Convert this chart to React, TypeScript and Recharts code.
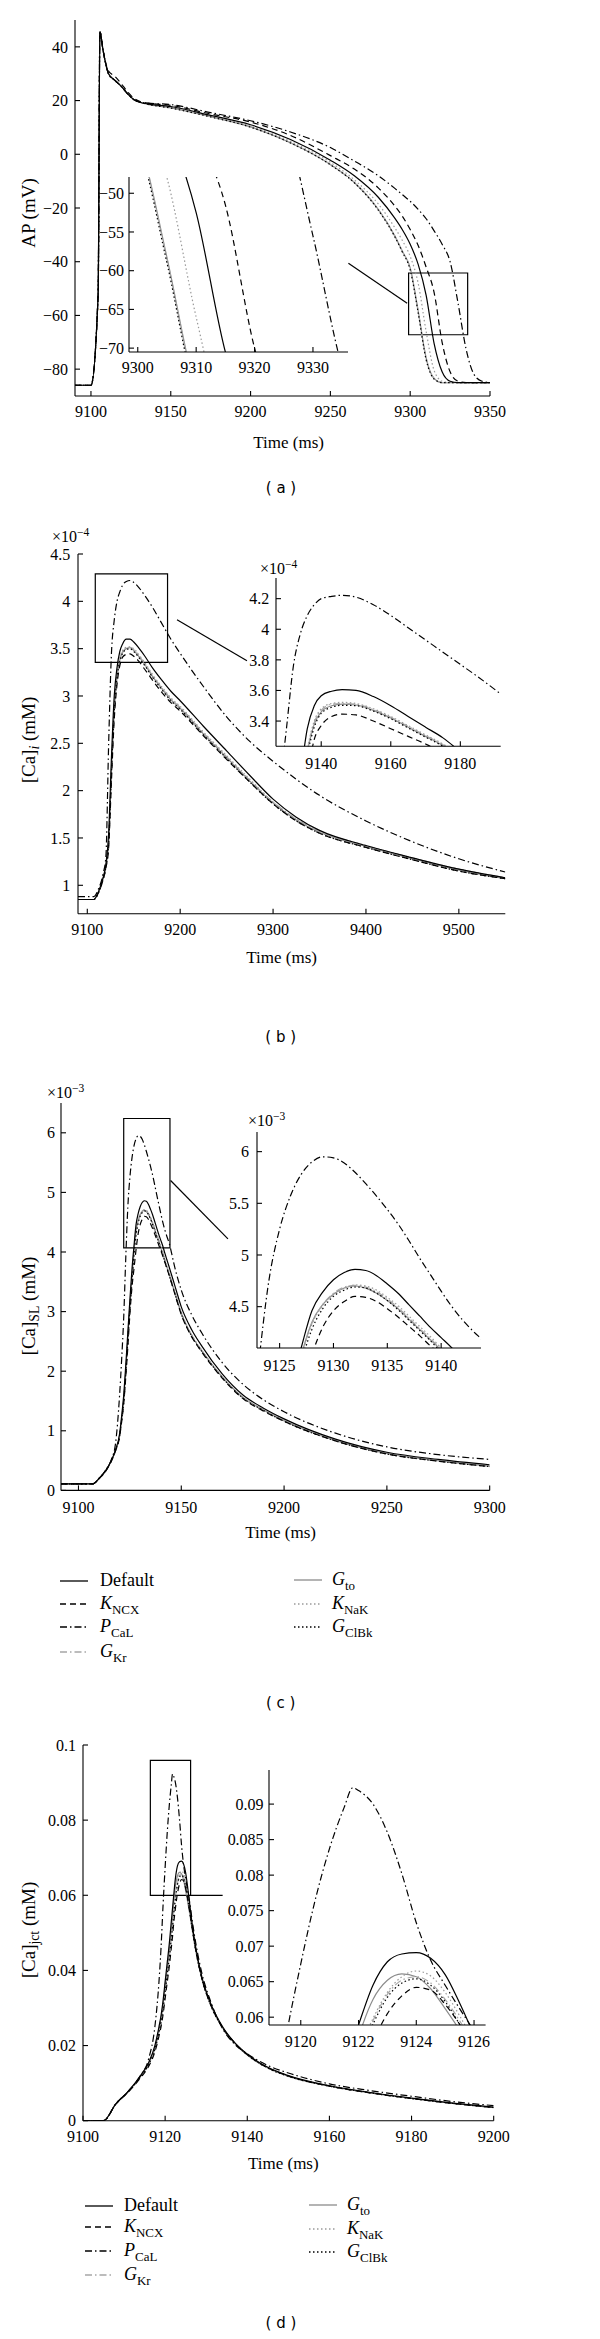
import React from "react";
import { LineChart, Line, XAxis, YAxis, ReferenceArea, ReferenceLine } from "recharts";

// ---- (a) action potential, mV ----
const aTime = [9090, 9100, 9104.5, 9105.6, 9107.5, 9109.5, 9111, 9115, 9119, 9123, 9127, 9133, 9150, 9175, 9200, 9225, 9250, 9265, 9280, 9290, 9295, 9300, 9305, 9310, 9315, 9320, 9325, 9330, 9335, 9340, 9345, 9350];
const aDef = [-86, -86, -52, 45.7, 39, 33, 30, 27.5, 25.3, 22.5, 20.3, 19, 17.8, 14.5, 11, 5.5, -2.2, -8, -16, -23.5, -28, -33.5, -41, -52.5, -70.5, -81, -84.5, -85, -85, -85, -85, -85];
const aNcx = [-86, -86, -52, 45.7, 39, 33.5, 31, 29, 26.3, 23.2, 20.8, 19.3, 18.2, 15, 12, 7, -0.5, -5.5, -12.5, -19, -23, -28, -34, -42, -51.5, -70, -81, -84.5, -85, -85, -85, -85];
const aCal = [-86, -86, -52, 45.7, 39, 33, 30, 27.5, 25.3, 22.5, 20.3, 19.2, 18.5, 15.5, 12.5, 8.3, 2.5, -2.5, -8, -12.5, -15, -17.5, -20.5, -24, -28.5, -33.5, -40, -55.5, -72.5, -82, -84.5, -85];
const aKr = [-86, -86, -52, 45.7, 39, 33, 30, 27.5, 25.3, 22.5, 20.3, 19, 17.3, 14, 10.2, 4.3, -3.8, -10.5, -20.5, -30, -36, -42.5, -58.5, -76, -83.5, -85, -85, -85, -85, -85, -85, -85];
const aTo = [-86, -86, -52, 45.7, 39, 33, 30, 27.5, 25.3, 22.5, 20.3, 19, 17.3, 14, 10.2, 4.3, -3.8, -10.5, -20.5, -30, -36, -42.3, -58.3, -75.8, -83.5, -85, -85, -85, -85, -85, -85, -85];
const aNak = [-86, -86, -52, 45.7, 39, 33, 30, 27.5, 25.3, 22.5, 20.3, 19, 17.5, 14.2, 10.5, 4.8, -3, -9.5, -18.5, -27, -32, -38, -48, -66, -80.5, -84.5, -85, -85, -85, -85, -85, -85];
const aClbk = [-86, -86, -52, 45.7, 39, 33, 30, 27.5, 25.3, 22.5, 20.3, 19, 17.2, 13.9, 10.1, 4.2, -3.9, -10.6, -20.8, -30.3, -36.3, -43, -59, -76.5, -83.7, -85, -85, -85, -85, -85, -85, -85];

// ---- (b) [Ca]i, x1e-4 mM ----
const bTime = [9090, 9107, 9112, 9117, 9120, 9123, 9126, 9129, 9132, 9135, 9138, 9142, 9146, 9150, 9156, 9162, 9170, 9180, 9190, 9200, 9225, 9250, 9275, 9300, 9325, 9350, 9400, 9450, 9500, 9550];
const bDef = [0.85, 0.85, 0.93, 1.08, 1.22, 1.55, 2.35, 3.0, 3.3, 3.47, 3.55, 3.6, 3.6, 3.57, 3.5, 3.42, 3.3, 3.17, 3.05, 2.95, 2.68, 2.42, 2.16, 1.91, 1.72, 1.58, 1.42, 1.29, 1.17, 1.08];
const bNcx = [0.85, 0.85, 0.92, 1.06, 1.18, 1.4, 2.1, 2.75, 3.12, 3.32, 3.41, 3.44, 3.445, 3.42, 3.36, 3.28, 3.17, 3.04, 2.93, 2.84, 2.58, 2.33, 2.09, 1.86, 1.68, 1.55, 1.4, 1.27, 1.15, 1.07];
const bCal = [0.88, 0.88, 0.96, 1.12, 1.3, 2.5, 3.45, 3.8, 4.0, 4.1, 4.17, 4.21, 4.22, 4.2, 4.14, 4.06, 3.94, 3.77, 3.6, 3.45, 3.1, 2.78, 2.52, 2.31, 2.12, 1.95, 1.68, 1.46, 1.28, 1.14];
const bKr = [0.85, 0.85, 0.93, 1.07, 1.2, 1.46, 2.22, 2.86, 3.21, 3.39, 3.47, 3.51, 3.515, 3.49, 3.42, 3.34, 3.22, 3.09, 2.97, 2.88, 2.61, 2.36, 2.11, 1.88, 1.7, 1.57, 1.42, 1.29, 1.17, 1.08];
const bTo = [0.85, 0.85, 0.93, 1.07, 1.2, 1.45, 2.2, 2.85, 3.2, 3.38, 3.46, 3.5, 3.51, 3.48, 3.41, 3.33, 3.21, 3.08, 2.96, 2.87, 2.6, 2.35, 2.1, 1.87, 1.69, 1.56, 1.41, 1.28, 1.16, 1.07];
const bNak = [0.85, 0.85, 0.93, 1.07, 1.2, 1.46, 2.22, 2.87, 3.22, 3.4, 3.48, 3.515, 3.52, 3.5, 3.43, 3.35, 3.23, 3.1, 2.98, 2.89, 2.62, 2.37, 2.12, 1.88, 1.7, 1.57, 1.42, 1.29, 1.17, 1.08];
const bClbk = [0.85, 0.85, 0.92, 1.06, 1.19, 1.44, 2.18, 2.83, 3.19, 3.37, 3.45, 3.49, 3.5, 3.47, 3.4, 3.32, 3.2, 3.07, 2.95, 2.86, 2.59, 2.34, 2.09, 1.86, 1.68, 1.55, 1.4, 1.27, 1.15, 1.07];

// (b) inset
const biTime = [9126, 9128, 9130, 9132, 9134, 9136, 9138, 9140, 9143, 9146, 9150, 9155, 9160, 9165, 9170, 9175, 9180, 9185, 9192];
const biDef = [1.9, 2.3, 2.6, 2.85, 3.05, 3.35, 3.5, 3.565, 3.595, 3.605, 3.6, 3.56, 3.5, 3.43, 3.36, 3.29, 3.2, 3.11, 2.98];
const biNcx = [1.6, 2.0, 2.35, 2.6, 2.85, 3.05, 3.28, 3.37, 3.43, 3.445, 3.44, 3.4, 3.35, 3.3, 3.25, 3.19, 3.1, 3.02, 2.9];
const biCal = [2.6, 2.95, 3.35, 3.76, 3.97, 4.09, 4.16, 4.2, 4.215, 4.222, 4.21, 4.16, 4.09, 4.01, 3.93, 3.85, 3.77, 3.69, 3.57];
const biKr = [1.7, 2.1, 2.45, 2.7, 2.96, 3.21, 3.39, 3.47, 3.51, 3.515, 3.51, 3.475, 3.425, 3.365, 3.305, 3.245, 3.165, 3.085, 2.965];
const biTo = [1.7, 2.1, 2.45, 2.7, 2.95, 3.2, 3.38, 3.46, 3.5, 3.51, 3.505, 3.47, 3.42, 3.36, 3.3, 3.24, 3.16, 3.08, 2.96];
const biNak = [1.7, 2.1, 2.45, 2.72, 2.97, 3.22, 3.4, 3.48, 3.515, 3.522, 3.515, 3.48, 3.43, 3.37, 3.31, 3.25, 3.17, 3.09, 2.97];
const biClbk = [1.7, 2.1, 2.45, 2.68, 2.93, 3.18, 3.36, 3.45, 3.49, 3.503, 3.5, 3.465, 3.415, 3.355, 3.295, 3.235, 3.155, 3.075, 2.955];

// ---- (c) [Ca]SL, x1e-3 mM ----
const cTime = [9091.5, 9107, 9110, 9113, 9116, 9118, 9120, 9121, 9122, 9123, 9124, 9125, 9126, 9127, 9128, 9129, 9130, 9131, 9132, 9133, 9134, 9135, 9136, 9137, 9138, 9139, 9140, 9141, 9142, 9143, 9144, 9147, 9150, 9155, 9160, 9170, 9180, 9190, 9200, 9225, 9250, 9275, 9300];
const cDef = [0.11, 0.11, 0.2, 0.32, 0.5, 0.68, 0.95, 1.25, 1.6, 2.1, 2.65, 3.2, 3.7, 4.1, 4.46, 4.64, 4.76, 4.83, 4.86, 4.85, 4.8, 4.72, 4.63, 4.52, 4.41, 4.3, 4.2, 4.1, 3.98, 3.87, 3.76, 3.42, 3.08, 2.7, 2.42, 1.95, 1.6, 1.38, 1.2, 0.86, 0.64, 0.52, 0.43];
const cNcx = [0.11, 0.11, 0.2, 0.31, 0.49, 0.66, 0.9, 1.15, 1.45, 1.9, 2.4, 2.95, 3.4, 3.72, 4.04, 4.3, 4.46, 4.55, 4.6, 4.59, 4.55, 4.48, 4.4, 4.31, 4.22, 4.12, 4.03, 3.93, 3.83, 3.72, 3.62, 3.28, 2.95, 2.58, 2.32, 1.88, 1.54, 1.33, 1.16, 0.83, 0.61, 0.49, 0.4];
const cCal = [0.11, 0.11, 0.2, 0.33, 0.52, 0.78, 1.6, 2.2, 2.9, 3.9, 4.75, 5.25, 5.57, 5.78, 5.9, 5.95, 5.94, 5.89, 5.8, 5.69, 5.57, 5.44, 5.3, 5.14, 4.97, 4.81, 4.65, 4.5, 4.37, 4.26, 4.16, 3.72, 3.36, 2.95, 2.64, 2.14, 1.78, 1.52, 1.32, 0.96, 0.73, 0.6, 0.52];
const cKr = [0.11, 0.11, 0.2, 0.32, 0.5, 0.67, 0.92, 1.2, 1.52, 2.0, 2.55, 3.1, 3.55, 4.01, 4.34, 4.52, 4.63, 4.69, 4.705, 4.69, 4.645, 4.575, 4.49, 4.39, 4.29, 4.19, 4.09, 3.98, 3.87, 3.76, 3.65, 3.31, 2.98, 2.61, 2.35, 1.9, 1.56, 1.35, 1.17, 0.84, 0.62, 0.5, 0.41];
const cTo = [0.11, 0.11, 0.2, 0.32, 0.5, 0.67, 0.92, 1.2, 1.52, 2.0, 2.55, 3.1, 3.55, 4.02, 4.35, 4.52, 4.62, 4.68, 4.7, 4.68, 4.63, 4.56, 4.48, 4.38, 4.28, 4.18, 4.08, 3.97, 3.86, 3.75, 3.64, 3.3, 2.97, 2.6, 2.34, 1.9, 1.56, 1.35, 1.17, 0.84, 0.62, 0.5, 0.41];
const cNak = [0.11, 0.11, 0.2, 0.32, 0.5, 0.67, 0.92, 1.19, 1.5, 1.98, 2.53, 3.08, 3.53, 4.0, 4.33, 4.51, 4.62, 4.68, 4.71, 4.7, 4.66, 4.59, 4.51, 4.41, 4.31, 4.21, 4.1, 3.99, 3.88, 3.77, 3.66, 3.32, 2.99, 2.61, 2.35, 1.9, 1.56, 1.35, 1.17, 0.84, 0.62, 0.5, 0.41];
const cClbk = [0.11, 0.11, 0.2, 0.32, 0.5, 0.67, 0.91, 1.18, 1.48, 1.95, 2.5, 3.04, 3.48, 3.95, 4.28, 4.48, 4.6, 4.66, 4.69, 4.68, 4.63, 4.56, 4.47, 4.37, 4.27, 4.17, 4.06, 3.95, 3.84, 3.73, 3.62, 3.29, 2.96, 2.59, 2.33, 1.89, 1.55, 1.34, 1.16, 0.83, 0.61, 0.49, 0.4];

// ---- (d) [Ca]jct, mM ----
const dTime = [9100, 9105, 9108, 9111, 9114, 9116, 9117.5, 9118.5, 9119, 9119.5, 9120, 9120.5, 9121, 9121.5, 9121.8, 9122, 9122.5, 9123, 9123.5, 9124, 9124.5, 9125, 9125.5, 9126, 9126.5, 9127.5, 9129, 9131, 9134, 9137, 9140, 9145, 9150, 9160, 9170, 9180, 9190, 9200];
const dDef = [0, 0, 0.0045, 0.0078, 0.012, 0.0155, 0.02, 0.025, 0.028, 0.032, 0.037, 0.042, 0.047, 0.053, 0.0565, 0.0589, 0.0645, 0.0678, 0.0689, 0.0691, 0.0683, 0.066, 0.062, 0.0575, 0.053, 0.0458, 0.038, 0.0315, 0.025, 0.0207, 0.0177, 0.0142, 0.012, 0.0093, 0.0075, 0.006, 0.0047, 0.0036];
const dNcx = [0, 0, 0.0044, 0.0076, 0.0114, 0.0145, 0.0183, 0.0225, 0.025, 0.0283, 0.0325, 0.0368, 0.041, 0.046, 0.049, 0.0515, 0.0565, 0.0605, 0.063, 0.0642, 0.0638, 0.0618, 0.059, 0.0555, 0.052, 0.0452, 0.0376, 0.0311, 0.0248, 0.0206, 0.0176, 0.0141, 0.0119, 0.0092, 0.0074, 0.0059, 0.0046, 0.0035];
const dCal = [0, 0, 0.0045, 0.0078, 0.012, 0.0165, 0.025, 0.037, 0.046, 0.0575, 0.0675, 0.0765, 0.0838, 0.0895, 0.0923, 0.0919, 0.09, 0.086, 0.0802, 0.0733, 0.068, 0.0645, 0.0612, 0.058, 0.054, 0.047, 0.039, 0.032, 0.0245, 0.0203, 0.0178, 0.0147, 0.0127, 0.0098, 0.008, 0.0065, 0.0051, 0.004];
const dKr = [0, 0, 0.0045, 0.0077, 0.0117, 0.015, 0.0191, 0.0236, 0.0264, 0.03, 0.0345, 0.039, 0.0435, 0.0487, 0.052, 0.0545, 0.0595, 0.0632, 0.0652, 0.0657, 0.0648, 0.0625, 0.0595, 0.056, 0.052, 0.0452, 0.0376, 0.0311, 0.0248, 0.0206, 0.0176, 0.0141, 0.0119, 0.0092, 0.0074, 0.0059, 0.0046, 0.0035];
const dTo = [0, 0, 0.0045, 0.0077, 0.0118, 0.0152, 0.0195, 0.0243, 0.0272, 0.031, 0.0358, 0.0405, 0.0452, 0.051, 0.0545, 0.0572, 0.0625, 0.0652, 0.0661, 0.0657, 0.064, 0.0612, 0.0582, 0.055, 0.0515, 0.045, 0.0375, 0.031, 0.0247, 0.0205, 0.0175, 0.014, 0.0118, 0.0092, 0.0074, 0.0059, 0.0046, 0.0035];
const dNak = [0, 0, 0.0045, 0.0077, 0.0117, 0.015, 0.0192, 0.0238, 0.0266, 0.0302, 0.0348, 0.0393, 0.0438, 0.049, 0.0523, 0.055, 0.0598, 0.0635, 0.0657, 0.0665, 0.0658, 0.0635, 0.0602, 0.0565, 0.0525, 0.0455, 0.0378, 0.0312, 0.0248, 0.0206, 0.0176, 0.0141, 0.0119, 0.0092, 0.0074, 0.0059, 0.0046, 0.0035];
const dClbk = [0, 0, 0.0045, 0.0077, 0.0117, 0.015, 0.019, 0.0235, 0.0263, 0.0298, 0.0343, 0.0388, 0.0432, 0.0484, 0.0515, 0.054, 0.059, 0.0628, 0.0648, 0.0654, 0.0645, 0.0622, 0.059, 0.0555, 0.0517, 0.045, 0.0375, 0.031, 0.0247, 0.0205, 0.0175, 0.014, 0.0118, 0.0092, 0.0074, 0.0059, 0.0046, 0.0035];

// zoom rectangles and leader lines, in data units of each main axes
const aZoom = [9299, 9336, -67.2, -44.2];
const aLead = [9261.3, -40.6, 9298.1, -55.5];
const bZoom = [9108.6, 9186.4, 3.355, 4.29];
const bLead = [9196.6, 3.806, 9271.9, 3.373];
const cZoom = [9122, 9144.5, 4.07, 6.24];
const cLead = [9144.8, 5.2, 9172.7, 4.22];
const dZoom = [9116.4, 9126.2, 0.06, 0.0959];
const dLead = [9126.2, 0.06, 9134, 0.06];

const SERIF = "'Liberation Serif', 'Times New Roman', serif";
const YW = 60;
const XH = 40;
const PAD = 10;
const PADR = 40;

const SERIES = [
  { key: "to", color: "#8c8c8c", dash: undefined },
  { key: "kr", color: "#a6a6a6", dash: "7 3 1.5 3" },
  { key: "nak", color: "#9a9a9a", dash: "1.5 2.5" },
  { key: "clbk", color: "#000", dash: "1.5 2.5" },
  { key: "ncx", color: "#000", dash: "6 4" },
  { key: "cal", color: "#000", dash: "7 3 1.5 3" },
  { key: "def", color: "#000", dash: undefined },
];

type Row = Record<string, number>;
const rowsOf = (t: number[], s: Record<string, number[]>): Row[] =>
  t.map((v, i) => {
    const r: Row = { t: v };
    Object.keys(s).forEach((k) => (r[k] = s[k][i]));
    return r;
  });

const aRows = rowsOf(aTime, { def: aDef, ncx: aNcx, cal: aCal, kr: aKr, to: aTo, nak: aNak, clbk: aClbk });
const bRows = rowsOf(bTime, { def: bDef, ncx: bNcx, cal: bCal, kr: bKr, to: bTo, nak: bNak, clbk: bClbk });
const biRows = rowsOf(biTime, { def: biDef, ncx: biNcx, cal: biCal, kr: biKr, to: biTo, nak: biNak, clbk: biClbk });
const cRows = rowsOf(cTime, { def: cDef, ncx: cNcx, cal: cCal, kr: cKr, to: cTo, nak: cNak, clbk: cClbk });
const dRows = rowsOf(dTime, { def: dDef, ncx: dNcx, cal: dCal, kr: dKr, to: dTo, nak: dNak, clbk: dClbk });

type Box = { l: number; r: number; t: number; b: number };

const minus = (v: number) => (v < 0 ? "\u2212" + Math.abs(v) : String(v));

const zoomMarks = (z: number[], lead: number[]) => [
  <ReferenceArea key="z" x1={z[0]} x2={z[1]} y1={z[2]} y2={z[3]} fill="none" fillOpacity={0} stroke="#000" strokeWidth={1.2} ifOverflow="visible" />,
  <ReferenceLine key="l" segment={[{ x: lead[0], y: lead[1] }, { x: lead[2], y: lead[3] }]} stroke="#000" strokeWidth={1.2} ifOverflow="visible" />,
];

type PlotProps = {
  box: Box;
  rows: Row[];
  xDomain: [number, number];
  yDomain: [number, number];
  xTicks: number[];
  yTicks: number[];
  xGap: number;
  yGap: number;
  framed?: boolean;
  fmt?: (v: number) => string;
  extra?: React.ReactNode[];
};

function Plot(p: PlotProps) {
  const w = p.box.r - p.box.l + YW + PADR;
  const h = p.box.b - p.box.t + PAD + XH;
  const tickStyle = { fill: "#000", fontSize: 16, fontFamily: SERIF };
  const ax = { stroke: "#000", strokeWidth: 1.1 };
  return (
    <div style={{ position: "absolute", left: p.box.l - YW, top: p.box.t - PAD, width: w, height: h }}>
      {p.framed && (
        <div style={{ position: "absolute", left: YW, top: PAD, width: p.box.r - p.box.l, height: p.box.b - p.box.t, background: "#fff" }} />
      )}
      <LineChart width={w} height={h} data={p.rows} margin={{ top: PAD, right: PADR, bottom: 0, left: 0 }}>
        <XAxis dataKey="t" type="number" domain={p.xDomain} ticks={p.xTicks} interval={0} allowDataOverflow height={XH}
          tickSize={-5} tickMargin={p.xGap + 5} tick={tickStyle} axisLine={ax} tickLine={ax} />
        <YAxis type="number" domain={p.yDomain} ticks={p.yTicks} interval={0} allowDataOverflow width={YW}
          tickSize={-5} tickMargin={p.yGap + 5} tick={tickStyle} axisLine={ax} tickLine={ax} tickFormatter={p.fmt} />
        {p.framed && (
          <XAxis xAxisId="top" orientation="top" dataKey="t" type="number" domain={p.xDomain} ticks={p.xTicks} interval={0}
            allowDataOverflow height={0} tickSize={-5} tick={false} axisLine={ax} tickLine={ax} />
        )}
        {p.framed && (
          <YAxis yAxisId="right" orientation="right" type="number" domain={p.yDomain} ticks={p.yTicks} interval={0}
            allowDataOverflow width={0} tickSize={-5} tick={false} axisLine={ax} tickLine={ax} />
        )}
        {SERIES.map((s) => (
          <Line key={s.key} dataKey={s.key} type="monotone" stroke={s.color} strokeDasharray={s.dash}
            strokeWidth={1.2} dot={false} isAnimationActive={false} />
        ))}
        {p.extra}
      </LineChart>
    </div>
  );
}

const Txt = ({ x, y, size = 17, rot = false, left = false, sans = false, children }: any) => (
  <div
    style={{
      position: "absolute", left: x, top: y, whiteSpace: "nowrap", lineHeight: 1, fontSize: size,
      fontFamily: sans ? "'DejaVu Sans', sans-serif" : SERIF,
      transform: left ? "translate(0,-50%)" : `translate(-50%,-50%)${rot ? " rotate(-90deg)" : ""}`,
    }}
  >
    {children}
  </div>
);

const Sub = ({ children }: any) => (
  <span style={{ fontSize: "0.72em", verticalAlign: "-0.35em", lineHeight: 0, fontStyle: "normal" }}>{children}</span>
);
const Sup = ({ children }: any) => (
  <span style={{ fontSize: "0.72em", verticalAlign: "0.55em", lineHeight: 0 }}>{children}</span>
);

const LEGEND = [
  { key: "def", label: <>Default</>, col: 0, row: 0 },
  { key: "ncx", label: <><i>K</i><Sub>NCX</Sub></>, col: 0, row: 1 },
  { key: "cal", label: <><i>P</i><Sub>CaL</Sub></>, col: 0, row: 2 },
  { key: "kr", label: <><i>G</i><Sub>Kr</Sub></>, col: 0, row: 3 },
  { key: "to", label: <><i>G</i><Sub>to</Sub></>, col: 1, row: 0 },
  { key: "nak", label: <><i>K</i><Sub>NaK</Sub></>, col: 1, row: 1 },
  { key: "clbk", label: <><i>G</i><Sub>ClBk</Sub></>, col: 1, row: 2 },
];

function LegendBlock({ cols, rows }: { cols: { x: number; tx: number }[]; rows: number[][] }) {
  return (
    <>
      {LEGEND.map((it) => {
        const s = SERIES.find((q) => q.key === it.key)!;
        const c = cols[it.col];
        const y = rows[it.col][it.row];
        return (
          <React.Fragment key={it.key}>
            <svg style={{ position: "absolute", left: c.x, top: y - 3 }} width={28} height={6}>
              <line x1={0} y1={3} x2={28} y2={3} stroke={s.color} strokeWidth={1.3} strokeDasharray={s.dash} />
            </svg>
            <Txt x={c.tx} y={y - 1} size={18} left>{it.label}</Txt>
          </React.Fragment>
        );
      })}
    </>
  );
}

export default function App() {
  return (
    <div style={{ position: "absolute", left: 0, top: 0, width: 600, height: 2339, background: "#fff" }}>
      {/* (a) */}
      <Plot box={{ l: 75, r: 490, t: 20, b: 396 }} rows={aRows} xDomain={[9090, 9350]} yDomain={[-90, 50]}
        xTicks={[9100, 9150, 9200, 9250, 9300, 9350]} yTicks={[-80, -60, -40, -20, 0, 20, 40]} xGap={10} yGap={7}
        fmt={minus} extra={zoomMarks(aZoom, aLead)} />
      <Plot box={{ l: 129, r: 348, t: 177, b: 352 }} rows={aRows} xDomain={[9298.5, 9336]} yDomain={[-70.5, -47.9]}
        xTicks={[9300, 9310, 9320, 9330]} yTicks={[-70, -65, -60, -55, -50]} xGap={10} yGap={5} fmt={minus} framed />
      <Txt x={288.7} y={442}>Time (ms)</Txt>
      <Txt x={28} y={213} size={19} rot>AP (mV)</Txt>
      <Txt x={281} y={488} size={15} sans>( a )</Txt>

      {/* (b) */}
      <Plot box={{ l: 77.7, r: 505, t: 554.3, b: 914 }} rows={bRows} xDomain={[9090, 9550]} yDomain={[0.7, 4.5]}
        xTicks={[9100, 9200, 9300, 9400, 9500]} yTicks={[1, 1.5, 2, 2.5, 3, 3.5, 4, 4.5]} xGap={10} yGap={7.7}
        extra={zoomMarks(bZoom, bLead)} />
      <Plot box={{ l: 276, r: 500.7, t: 577.7, b: 746 }} rows={biRows} xDomain={[9127, 9191.6]} yDomain={[3.235, 4.335]}
        xTicks={[9140, 9160, 9180]} yTicks={[3.4, 3.6, 3.8, 4, 4.2]} xGap={11} yGap={6.7} framed />
      <Txt x={52} y={537} size={16} left>×10<Sup>−4</Sup></Txt>
      <Txt x={260} y={569} size={16} left>×10<Sup>−4</Sup></Txt>
      <Txt x={281.7} y={956.7}>Time (ms)</Txt>
      <Txt x={28} y={740} size={19} rot>[Ca]<Sub><i>i</i></Sub> (mM)</Txt>
      <Txt x={280.7} y={1036.7} size={15} sans>( b )</Txt>

      {/* (c) */}
      <Plot box={{ l: 61.3, r: 490, t: 1103.3, b: 1490.7 }} rows={cRows} xDomain={[9091.5, 9300]} yDomain={[0, 6.5]}
        xTicks={[9100, 9150, 9200, 9250, 9300]} yTicks={[0, 1, 2, 3, 4, 5, 6]} xGap={11} yGap={6}
        extra={zoomMarks(cZoom, cLead)} />
      <Plot box={{ l: 256.7, r: 480.7, t: 1132.3, b: 1348.3 }} rows={cRows} xDomain={[9122.9, 9143.7]} yDomain={[4.1, 6.19]}
        xTicks={[9125, 9130, 9135, 9140]} yTicks={[4.5, 5, 5.5, 6]} xGap={12} yGap={8} framed />
      <Txt x={47} y={1093} size={16} left>×10<Sup>−3</Sup></Txt>
      <Txt x={248} y={1121} size={16} left>×10<Sup>−3</Sup></Txt>
      <Txt x={280.7} y={1532}>Time (ms)</Txt>
      <Txt x={28} y={1306} size={19} rot>[Ca]<Sub>SL</Sub> (mM)</Txt>
      <LegendBlock cols={[{ x: 60, tx: 100 }, { x: 294, tx: 332 }]} rows={[[1581, 1604, 1627, 1652], [1580, 1604, 1627]]} />
      <Txt x={280.7} y={1703.3} size={15} sans>( c )</Txt>

      {/* (d) */}
      <Plot box={{ l: 83, r: 493.7, t: 1745, b: 2120.7 }} rows={dRows} xDomain={[9100, 9200]} yDomain={[0, 0.1]}
        xTicks={[9100, 9120, 9140, 9160, 9180, 9200]} yTicks={[0, 0.02, 0.04, 0.06, 0.08, 0.1]} xGap={10} yGap={7}
        extra={zoomMarks(dZoom, dLead)} />
      <Plot box={{ l: 268.7, r: 485.3, t: 1770, b: 2025 }} rows={dRows} xDomain={[9118.9, 9126.4]} yDomain={[0.0589, 0.0948]}
        xTicks={[9120, 9122, 9124, 9126]} yTicks={[0.06, 0.065, 0.07, 0.075, 0.08, 0.085, 0.09]} xGap={10.5} yGap={5.4} framed />
      <Txt x={283.3} y={2163.3}>Time (ms)</Txt>
      <Txt x={28} y={1930} size={19} rot>[Ca]<Sub>jct</Sub> (mM)</Txt>
      <LegendBlock cols={[{ x: 85, tx: 124 }, { x: 309, tx: 347 }]} rows={[[2206, 2227, 2251, 2275], [2205, 2229, 2252]]} />
      <Txt x={281} y={2323.3} size={15} sans>( d )</Txt>
    </div>
  );
}
